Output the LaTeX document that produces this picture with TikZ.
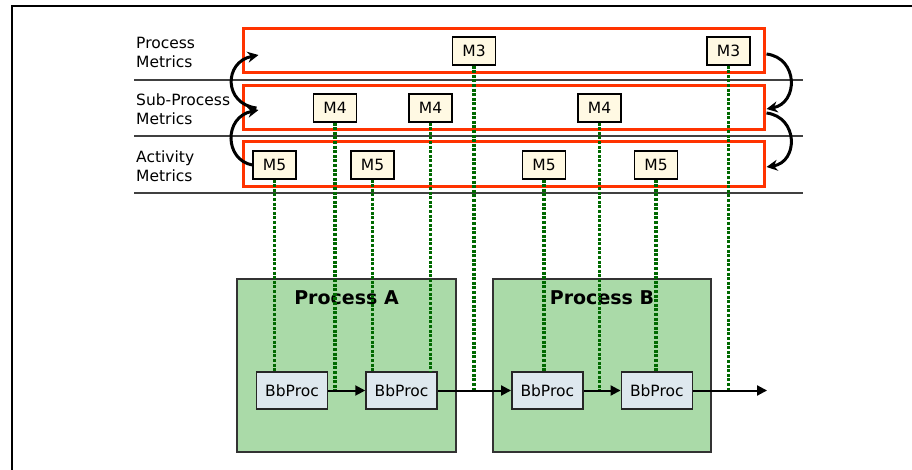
\documentclass[tikz,border=0pt]{standalone}
\usepackage{fontspec}
\setmainfont{DejaVu Sans}
\usetikzlibrary{arrows.meta,positioning}
\definecolor{redline}{RGB}{255,51,0}
\definecolor{metfill}{RGB}{255,249,227}
\definecolor{procfill}{RGB}{170,218,168}
\definecolor{bbfill}{RGB}{222,232,238}
\definecolor{dotgreen}{RGB}{0,105,0}
\definecolor{rowline}{RGB}{64,64,64}

\begin{document}
\begin{tikzpicture}[x=1pt, y=-1pt,
  lbl/.style={anchor=west, align=left, inner sep=0pt,
              font=\fontsize{15.5}{19}\selectfont},
  row/.style={draw=redline, line width=3pt, inner sep=0pt,
              minimum width=521pt, minimum height=44pt},
  met/.style={draw, line width=1.2pt, fill=metfill, inner sep=0pt,
              minimum width=43pt, minimum height=28pt,
              font=\fontsize{15.5}{18}\selectfont},
  proc/.style={draw=black!80, line width=1.5pt, fill=procfill, inner sep=0pt,
               minimum width=219pt, minimum height=173pt},
  ptitle/.style={inner sep=0pt, font=\fontsize{19}{22}\selectfont\bfseries},
  bbox/.style={draw=black!85, line width=1.5pt, fill=bbfill, inner sep=0pt,
               minimum width=71pt, minimum height=37pt,
               font=\fontsize{15.5}{18}\selectfont},
  sep/.style={draw=rowline, line width=2pt},
  link/.style={dotgreen, line width=3.5pt, dash pattern=on 3pt off 1.6pt},
  flow/.style={-{Triangle[length=10pt,width=10pt]}, line width=2pt},
  lift/.style={-{Stealth[length=11pt,width=11pt]}, line width=3pt},
]
  \useasboundingbox (0,0) rectangle (912,470);

  %% ---- frame ----
  \draw[line width=1.5pt] (12,470) -- (12,6) -- (912,6);

  %% ---- metric levels ----
  \draw[sep] (134,80) -- (803,80);
  \draw[sep] (134,136.5) -- (803,136.5);
  \draw[sep] (134,193) -- (803,193);

  \node[row] (row1) at (503.5,51) {};
  \node[row] (row2) at (503.5,108) {};
  \node[row, minimum height=45pt] (row3) at (503.5,164.5) {};

  \node[lbl] (lproc) at (136,52)  {Process\\Metrics};
  \node[lbl] (lsub)  at (136,109) {Sub-Process\\Metrics};
  \node[lbl] (lact)  at (136,166) {Activity\\Metrics};

  \node[met] (m3a) at (474,51)    {M3};
  \node[met] (m3b) at (728.5,51)  {M3};
  \node[met] (m4a) at (335,108)   {M4};
  \node[met] (m4b) at (430.5,108) {M4};
  \node[met] (m4c) at (599.5,108) {M4};
  \node[met] (m5a) at (274.5,165) {M5};
  \node[met] (m5b) at (372.5,165) {M5};
  \node[met] (m5c) at (544,165)   {M5};
  \node[met] (m5d) at (656,165)   {M5};

  %% ---- roll-up arrows ----
  \coordinate (r1in)  at ([xshift=17pt,yshift=-4pt]row1.west);
  \coordinate (r2in)  at ([xshift=17pt,yshift=-2pt]row2.west);
  \coordinate (r2out) at ([xshift=15pt]row2.west);
  \draw[lift] (m5a.west) .. controls +(-28,-5) and +(-35,7) .. (r2in);
  \draw[lift] (r2out) .. controls +(-33,-4) and +(-35,7) .. (r1in);

  \coordinate (r1dn)  at ([xshift=1pt,yshift=-3pt]row1.east);
  \coordinate (r2tip) at ([xshift=1pt,yshift=-1pt]row2.east);
  \coordinate (r2dn)  at ([xshift=1pt,yshift=-5pt]row2.east);
  \coordinate (r3tip) at ([xshift=1pt,yshift=-2.5pt]row3.east);
  \draw[lift] (r1dn) .. controls +(32,4) and +(32,-6) .. (r2tip);
  \draw[lift] (r2dn) .. controls +(32,4) and +(32,-5) .. (r3tip);

  %% ---- processes ----
  \node[proc] (procA) at (346.5,365.5) {};
  \node[proc, minimum width=218pt] (procB) at (602,365.5) {};
  \node[ptitle, below=12pt of procA.north] (titleA) {Process A};
  \node[ptitle, below=12pt of procB.north] (titleB) {Process B};

  \node[bbox] (bb1) at (292,390.5) {BbProc};
  \node[bbox, right=37pt of bb1] (bb2) {BbProc};
  \node[bbox] (bb3) at (547.3,390.5) {BbProc};
  \node[bbox, right=37pt of bb3] (bb4) {BbProc};
  \coordinate[right=74pt of bb4.east] (flowend);

  %% ---- measurement points ----
  \foreach \m/\b/\a in {m5a/bb1/north, m4a/bb1/east, m5b/bb2/north,
                        m4b/bb2/north, m3a/bb2/east, m5c/bb3/north,
                        m4c/bb3/east, m5d/bb4/north, m3b/flowend/center}
    \draw[link] (\m.south) -- (\m.south |- \b.\a);

  \draw[flow] (bb1) -- (bb2);
  \draw[flow] (bb2) -- (bb3);
  \draw[flow] (bb3) -- (bb4);
  \draw[flow] (bb4) -- (flowend);
\end{tikzpicture}
\end{document}
